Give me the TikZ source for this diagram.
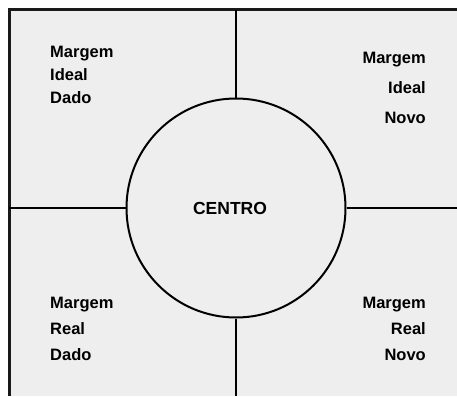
\documentclass[tikz,border=0pt]{standalone}
\usepackage{fontspec}
\setmainfont{Liberation Sans}
\usepackage{tikz}

\definecolor{fundo}{HTML}{EEEEEE}

\begin{document}
\begin{tikzpicture}[x=1pt,y=-1pt,
  rotulo/.style = {font=\bfseries\fontsize{16.5}{23}\selectfont, inner sep=0pt},
  linha/.style = {line width=2pt, black}]
\useasboundingbox (0,0) rectangle (457,396);
\fill[fundo] (9,10) rectangle (457,396);
\draw[line width=3pt, black!90] (9,396) -- (9,10) -- (457,10);
\node[draw, circle, linha, minimum size=219pt, inner sep=0pt,
  font=\bfseries\fontsize{17.5}{20}\selectfont] (centro) at (236,208) {CENTRO\hspace*{12pt}};
\coordinate (topo) at (236,10);
\coordinate (base) at (236,396);
\coordinate (esq) at (9,208);
\coordinate (dir) at (457,208);
\draw[linha] (centro.north) -- (topo);
\draw[linha] (centro.south) -- (base);
\draw[linha] (centro.west) -- (esq);
\draw[linha] (centro.east) -- (dir);
\node[rotulo, align=left, anchor=north west] (ideal dado) at (50,46) {Margem\\Ideal\\Dado};
\node[rotulo, align=right, anchor=north east, font=\bfseries\fontsize{16.5}{30}\selectfont] (ideal novo) at (426,52) {Margem\\Ideal\\Novo};
\node[rotulo, align=left, anchor=north west, font=\bfseries\fontsize{16.5}{26}\selectfont] (real dado) at (50,297) {Margem\\Real\\Dado};
\node[rotulo, align=right, anchor=north east, font=\bfseries\fontsize{16.5}{26}\selectfont] (real novo) at (426,297) {Margem\\Real\\Novo};
\end{tikzpicture}
\end{document}
